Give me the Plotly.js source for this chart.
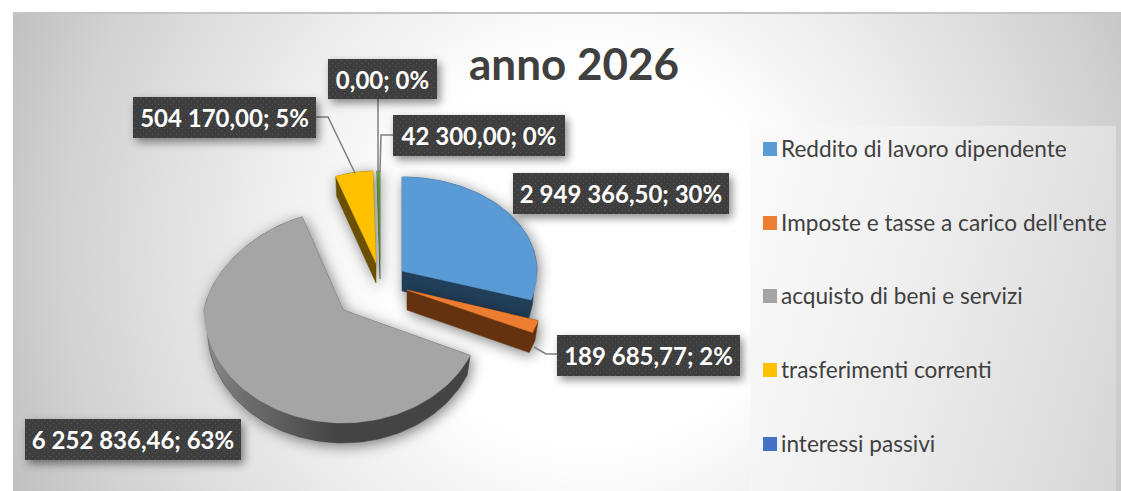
<!DOCTYPE html>
<html>
<head>
<meta charset="utf-8">
<script src="https://cdn.plot.ly/plotly-3.0.1.min.js"></script>
<style>
html,body{margin:0;padding:0;background:#fff;width:1121px;height:491px;overflow:hidden}
#frame{position:absolute;left:13px;top:12px;width:1108px;height:479px;box-sizing:border-box;border-top:2px solid #c4c4c4;
 background:radial-gradient(circle 640px at 575px 238px,#fff 0,#fff 30%,#f1f1f1 47%,#e4e4e4 62%,#d2d2d2 82%,#bdbdbd 100%)}
#panel{position:absolute;left:750px;top:126px;width:366px;height:365px;
 background:linear-gradient(105deg,#fbfbfb 0,#f3f3f3 30%,#e6e6e6 65%,#d6d6d6 100%)}
#chart{position:absolute;left:0;top:0;width:1121px;height:491px}
.scatterlayer .trace.extr{filter:drop-shadow(2px 3px 7px rgba(0,0,0,.5))}
</style>
</head>
<body>
<div id="frame"></div>
<div id="panel"></div>
<div id="chart"></div>
<script>
// ---- data ----
const categories = ["Reddito di lavoro dipendente","Imposte e tasse a carico dell'ente","acquisto di beni e servizi","trasferimenti correnti","interessi passivi",""];
const values = [2949366.50, 189685.77, 6252836.46, 504170.00, 0.00, 42300.00];
const chartTitle = "anno 2026";

// ---- styles ----
const topColors  = ["#5b9bd5","#ed7d31","#a5a5a5","#ffc000","#4472c4","#70ad47"];
const sideColors = ["#223f59","#64320f","#444444","#6a5000","#1d3057","#3a5a26"];
// ---- exploded apex and radii of each slice, in pixels ----
const apexX = [402,407,343,376,379,380];
const apexY = [271,290,310,263,258,259];
const farY  = [94,96,99,92,92,88];
const nearY = [100,106,113,106,106,106];
const radX  = [135,137,139,137,137,137];
const farShrink = [0,0,0.14,0.14,0,0.14];
const depth = 20, lowerScale = 0.975;
const drawOrder = [0,5,3,2,1];
// ---- label boxes: left, right, top, bottom ----
const boxes = [[513,729,173,214],[557,740,335,376],[25,241,419,460],[133,316,97,138],[328,437,59,99],[393,565,115,156]];
const leaders = [
  [[316,117],[328,117],[355,173]],
  [[378,99],[378,172]],
  [[393,135],[381,135],[380,172]],
  [[557,354],[546,354],[534,347]]
];
const legendY = [149,223,296,370,444];

// ---- build ----
const total = values.reduce((a,b)=>a+b,0);
function fmt(v){
  const s = v.toFixed(2).split('.');
  return s[0].replace(/\B(?=(\d{3})+$)/g,' ') + ',' + s[1];
}
const startAngle = [];
values.reduce((acc,v,i)=>{startAngle[i]=acc;return acc+v/total*2*Math.PI;},0);

function facePoints(i){
  const a0=startAngle[i], a1=a0+values[i]/total*2*Math.PI;
  const n=Math.max(2,Math.ceil((a1-a0)/0.03));
  const px=[apexX[i]], py=[apexY[i]];
  for(let k=0;k<=n;k++){
    const t=a0+(a1-a0)*k/n, c=Math.cos(t);
    px.push(apexX[i]+radX[i]*(1-farShrink[i]*Math.max(0,c))*Math.sin(t));
    py.push(apexY[i]-(c>0?farY[i]:nearY[i])*c);
  }
  px.push(apexX[i]);py.push(apexY[i]);
  return [px,py];
}
// outline of a face swept down by the slice depth, the lower rim a little narrower
function silhouette(i,px,py){
  const sx=[],sy=[];
  const low=x=>apexX[i]+(x-apexX[i])*lowerScale;
  for(let k=0;k<px.length-1;k++){
    const down=(px[k+1]-px[k])<0;
    sx.push(down?low(px[k]):px[k],down?low(px[k+1]):px[k+1]);
    sy.push(py[k]+(down?depth:0),py[k+1]+(down?depth:0));
  }
  sx.push(sx[0]);sy.push(sy[0]);
  return [sx,sy];
}
const traces=[];
const base={type:'scatter',mode:'lines',fill:'toself',hoverinfo:'skip',showlegend:false};
drawOrder.forEach(i=>{
  const [px,py]=facePoints(i);
  const [sx,sy]=silhouette(i,px,py);
  const side=Object.assign({},base,{x:sx,y:sy,name:categories[i]+' side',fillcolor:sideColors[i],line:{color:sideColors[i],width:0.5}});
  if(i===2){side.fillgradient={type:'horizontal',colorscale:[[0,'#8c8c8c'],[0.15,'#6e6e6e'],[0.5,'#444444'],[1,'#444444']]};}
  traces.push(side);
  traces.push(Object.assign({},base,{x:px,y:py,name:categories[i],fillcolor:topColors[i],line:{color:topColors[i],width:0.5}}));
});

const annotations=[];
const labelOrder=[0,1,2,3,4,5];
labelOrder.forEach(i=>{
  const b=boxes[i];
  annotations.push({xref:'x',yref:'y',x:(b[0]+b[1])/2,y:(b[2]+b[3])/2,xanchor:'center',yanchor:'middle',
    width:b[1]-b[0],height:b[3]-b[2],showarrow:false,align:'center',valign:'middle',bgcolor:'#3f3f3f',borderpad:0,borderwidth:0,
    text:'<b>'+fmt(values[i])+'; '+Math.round(values[i]/total*100)+'%</b>',
    font:{family:'Lato, Carlito, sans-serif',size:24,color:'#ffffff'}});
});
const shapes=[];
legendY.forEach((y,i)=>{
  shapes.push({type:'rect',xref:'x',yref:'y',x0:763,x1:777,y0:y-7,y1:y+7,fillcolor:topColors[i],line:{width:0}});
  annotations.push({xref:'x',yref:'y',x:779,y:y-1,xanchor:'left',yanchor:'middle',showarrow:false,text:categories[i],
    font:{family:'Lato, Carlito, sans-serif',size:22.6,color:'#404040'}});
});
leaders.forEach(l=>{
  shapes.push({type:'path',xref:'x',yref:'y',path:'M'+l.map(p=>p.join(',')).join('L'),line:{color:'#7f7f7f',width:1.5},fillcolor:'rgba(0,0,0,0)',layer:'above'});
});

const layout={
  width:1121,height:491,margin:{l:0,r:0,t:0,b:0},paper_bgcolor:'rgba(0,0,0,0)',plot_bgcolor:'rgba(0,0,0,0)',showlegend:false,
  title:{text:'<b>'+chartTitle+'</b>',x:574/1121,xanchor:'center',y:1-65/491,yanchor:'middle',font:{family:'Lato, Carlito, sans-serif',size:44,color:'#404040'}},
  xaxis:{visible:false,range:[0,1121],fixedrange:true},
  yaxis:{visible:false,range:[491,0],fixedrange:true},
  annotations:annotations,shapes:shapes
};
Plotly.newPlot('chart',traces,layout,{displayModeBar:false,staticPlot:true}).then(gd=>{
  // soft shadow under each slice silhouette
  gd.querySelectorAll('.scatterlayer .trace').forEach((t,i)=>{ if(i%2===0) t.classList.add('extr'); });
  // dotted fill and shadow of the label boxes
  const svg=gd.querySelector('svg.main-svg');
  const NS='http://www.w3.org/2000/svg';
  let defs=svg.querySelector('defs');
  const pat=document.createElementNS(NS,'pattern');
  pat.setAttribute('id','dots');pat.setAttribute('width','6');pat.setAttribute('height','6');pat.setAttribute('patternUnits','userSpaceOnUse');
  [[0,0,6,6,'#3e3e3e'],[1,1,1,1,'#565656'],[4,4,1,1,'#565656']].forEach(r=>{
    const e=document.createElementNS(NS,'rect');
    e.setAttribute('x',r[0]);e.setAttribute('y',r[1]);e.setAttribute('width',r[2]);e.setAttribute('height',r[3]);e.setAttribute('fill',r[4]);
    pat.appendChild(e);
  });
  defs.appendChild(pat);
  gd.querySelectorAll('.annotation').forEach(a=>{
    const idx=+a.getAttribute('data-index');
    if(idx<labelOrder.length){
      const r=a.querySelector('rect.bg');
      if(r){r.style.fill='url(#dots)';r.style.filter='drop-shadow(3px 4px 4px rgba(0,0,0,.45))';}
    }
  });
});
</script>
</body>
</html>
